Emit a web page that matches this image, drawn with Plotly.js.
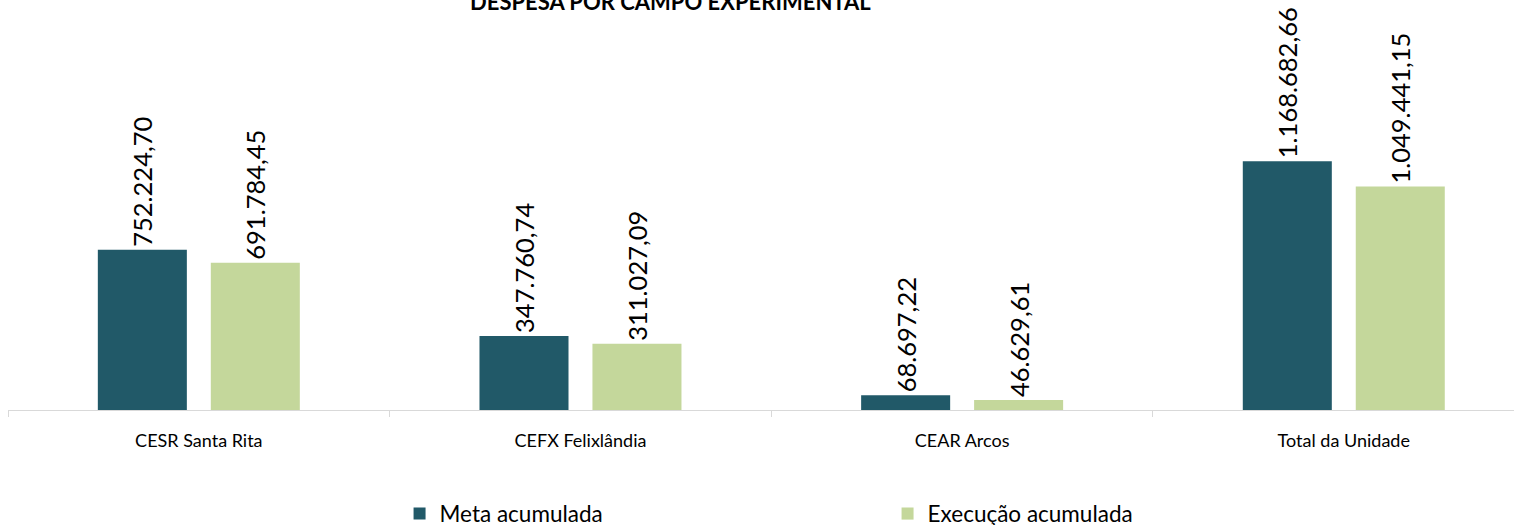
<!DOCTYPE html>
<html>
<head>
<meta charset="utf-8">
<script src="https://cdn.plot.ly/plotly-3.0.1.min.js"></script>
<style>
  html, body { margin: 0; padding: 0; background: white; }
  #plotDiv { width: 1514px; height: 525px; }
</style>
</head>
<body>
<div id="plotDiv"></div>
<script>
// chart data
var categories = ['CESR Santa Rita', 'CEFX Felixlândia', 'CEAR Arcos', 'Total da Unidade'];
var metaValues = [752224.70, 347760.74, 68697.22, 1168682.66];
var execValues = [691784.45, 311027.09, 46629.61, 1049441.15];
var seriesNames = ['Meta acumulada', 'Execução acumulada'];
var chartTitle = 'DESPESA POR CAMPO EXPERIMENTAL';

// pt-BR number format: 1.168.682,66
function fmtBR(v) {
    var parts = v.toFixed(2).split('.');
    var intPart = parts[0].replace(/\B(?=(\d{3})+(?!\d))/g, '.');
    return intPart + ',' + parts[1];
}

var fontFam = 'Lato, "Liberation Sans", sans-serif';

function barTrace(name, vals, color) {
    return {
        type: 'bar',
        name: name,
        x: categories,
        y: vals,
        text: vals.map(fmtBR),
        textposition: 'outside',
        textangle: -90,
        constraintext: 'none',
        cliponaxis: false,
        textfont: { family: fontFam, size: 25.5, color: '#000000' },
        marker: { color: color },
        hoverinfo: 'none'
    };
}

var data = [
    barTrace(seriesNames[0], metaValues, '#215968'),
    barTrace(seriesNames[1], execValues, '#C4D79B')
];

var layout = {
    width: 1514,
    height: 525,
    margin: { l: 8, r: 0, t: 10, b: 115, autoexpand: false },
    paper_bgcolor: 'white',
    plot_bgcolor: 'white',
    barmode: 'group',
    bargap: 0.408,
    bargroupgap: 0.212,
    font: { family: fontFam, color: '#000000' },
    showlegend: true,
    legend: {
        orientation: 'h',
        xref: 'paper',
        yref: 'container',
        x: 0.26,
        xanchor: 'left',
        y: 0.021,
        yanchor: 'middle',
        entrywidth: 443,
        entrywidthmode: 'pixels',
        font: { family: fontFam, size: 22.5, color: '#000000' }
    },
    xaxis: {
        type: 'category',
        range: [-0.5, 3.446],
        showline: true,
        linecolor: '#D9D9D9',
        linewidth: 1,
        ticks: 'outside',
        tickson: 'boundaries',
        ticklen: 6,
        tickcolor: '#D9D9D9',
        showgrid: false,
        zeroline: false,
        tickfont: { family: fontFam, size: 18, color: '#000000' },
        ticklabelstandoff: 14
    },
    yaxis: {
        range: [0, 1878800],
        visible: false,
        showgrid: false,
        zeroline: false
    },
    annotations: [{
        text: '<b>' + chartTitle + '</b>',
        xref: 'paper',
        yref: 'paper',
        x: 0.44,
        y: 1,
        xanchor: 'center',
        yanchor: 'bottom',
        yshift: -7,
        showarrow: false,
        font: { family: fontFam, size: 22, color: '#000000' }
    }]
};

Plotly.newPlot('plotDiv', data, layout, { staticPlot: true });
</script>
</body>
</html>
